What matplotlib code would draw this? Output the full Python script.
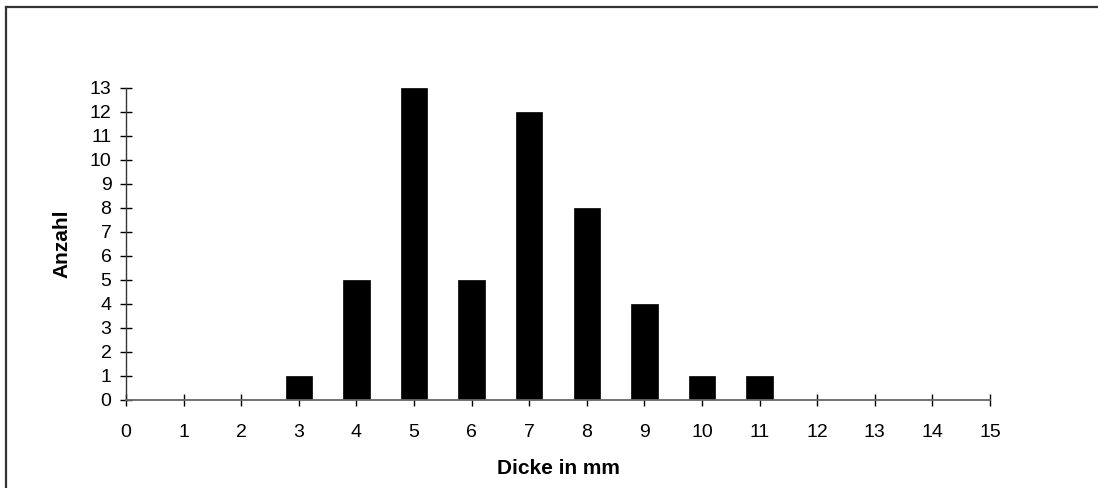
import matplotlib.pyplot as plt
from matplotlib.lines import Line2D

plt.rcParams['font.family'] = ['Liberation Sans', 'DejaVu Sans']

# Dicke in mm -> Anzahl
dicke = [3, 4, 5, 6, 7, 8, 9, 10, 11]
anzahl = [1, 5, 13, 5, 12, 8, 4, 1, 1]
x_ticks = list(range(0, 16))
y_ticks = list(range(0, 14))

W, H = 1098, 488
fig = plt.figure(figsize=(W / 100, H / 100), dpi=100)
ax = fig.add_axes([126 / W, 1 - 400 / H, (990 - 126) / W, (400 - 88) / H])

ax.bar(dicke, anzahl, width=0.46, color='black', edgecolor='black', linewidth=0.5, zorder=2)

ax.set_xlim(0, 15)
ax.set_ylim(0, 13)
ax.set_xticks(x_ticks)
ax.set_yticks(y_ticks)
ax.tick_params(axis='both', direction='inout', length=9, width=1, labelsize=14, colors='black')
ax.tick_params(axis='x', pad=13)
ax.tick_params(axis='y', pad=6)

for side in ('top', 'right'):
    ax.spines[side].set_visible(False)
ax.spines['left'].set_color('#333333')
ax.spines['bottom'].set_color('#666666')
ax.spines['left'].set_linewidth(1)
ax.spines['bottom'].set_linewidth(1.3)

ax.set_xlabel('Dicke in mm', fontsize=15, fontweight='bold', labelpad=13)
ax.set_ylabel('Anzahl', fontsize=15, fontweight='bold', labelpad=13)

# chart frame: only top and left edges fall inside the picture
x0, y0 = 5.5 / W, 1 - 6.5 / H
fig.add_artist(Line2D([x0, 1.0], [y0, y0], transform=fig.transFigure, color='#333333', linewidth=1.6))
fig.add_artist(Line2D([x0, x0], [0.0, y0], transform=fig.transFigure, color='#333333', linewidth=1.6))

fig.savefig('out.png', dpi=100)
